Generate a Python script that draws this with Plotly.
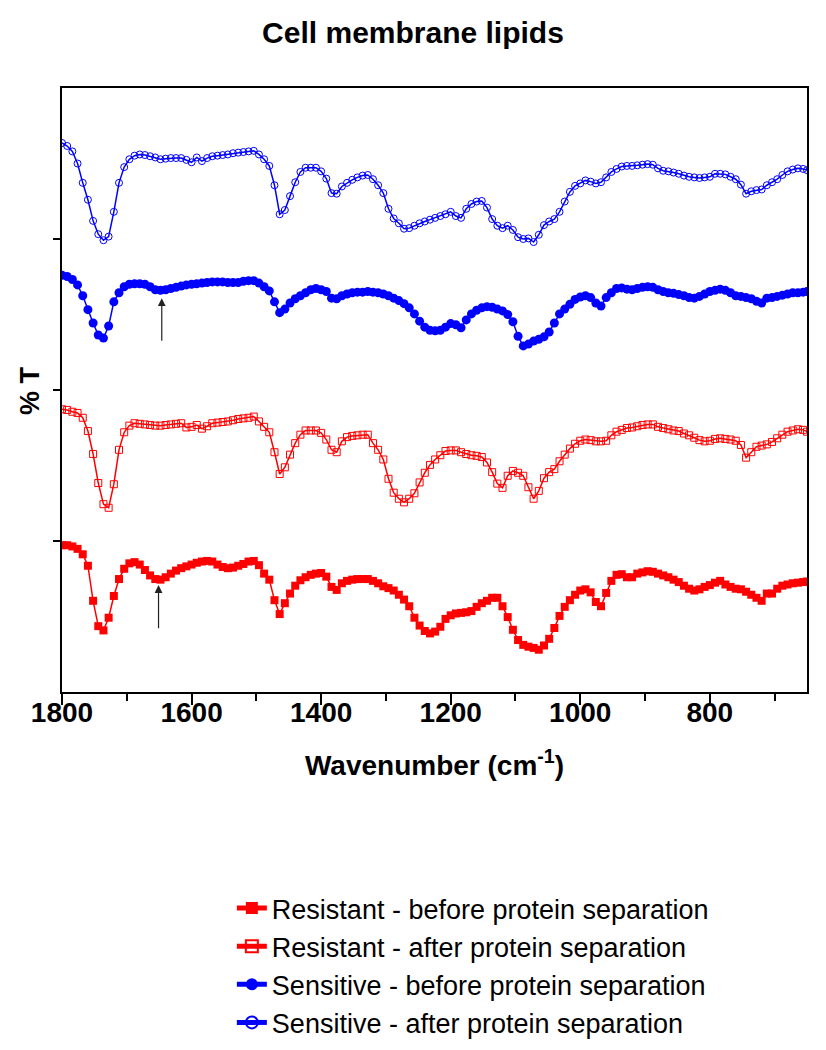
import plotly.graph_objects as go

# Wavenumber grid (cm^-1), rows of 10
WAVENUMBER = [
    1800, 1792, 1784, 1776, 1768, 1760, 1752, 1744, 1736, 1728,
    1720, 1712, 1704, 1696, 1688, 1680, 1672, 1664, 1656, 1648,
    1640, 1632, 1624, 1616, 1608, 1600, 1592, 1584, 1576, 1568,
    1560, 1552, 1544, 1536, 1528, 1520, 1512, 1504, 1496, 1488,
    1480, 1472, 1464, 1456, 1448, 1440, 1432, 1424, 1416, 1408,
    1400, 1392, 1384, 1376, 1368, 1360, 1352, 1344, 1336, 1328,
    1320, 1312, 1304, 1296, 1288, 1280, 1272, 1264, 1256, 1248,
    1240, 1232, 1224, 1216, 1208, 1200, 1192, 1184, 1176, 1168,
    1160, 1152, 1144, 1136, 1128, 1120, 1112, 1104, 1096, 1088,
    1080, 1072, 1064, 1056, 1048, 1040, 1032, 1024, 1016, 1008,
    1000, 992, 984, 976, 968, 960, 952, 944, 936, 928,
    920, 912, 904, 896, 888, 880, 872, 864, 856, 848,
    840, 832, 824, 816, 808, 800, 792, 784, 776, 768,
    760, 752, 744, 736, 728, 720, 712, 704, 696, 688,
    680, 672, 664, 656, 650,
]

# % T (offset stacked spectra)
SENSITIVE_AFTER = [
    90.9, 90.4, 89.5, 87.5, 84.3, 81.5, 78.0, 75.8, 74.8, 75.4,
    79.5, 84.3, 86.9, 88.2, 88.8, 89.0, 88.9, 88.7, 88.5, 88.2,
    88.3, 88.4, 88.4, 88.4, 88.1, 87.7, 88.5, 87.9, 88.4, 88.7,
    88.8, 88.9, 89.0, 89.2, 89.3, 89.4, 89.5, 89.6, 89.0, 88.2,
    87.1, 83.9, 79.1, 79.8, 82.1, 84.4, 86.1, 86.8, 86.8, 86.8,
    86.2, 85.0, 82.6, 82.5, 83.7, 84.3, 84.8, 85.2, 85.5, 85.6,
    84.9, 83.9, 82.6, 80.0, 78.4, 77.6, 76.7, 76.8, 77.2, 77.6,
    77.9, 78.2, 78.5, 78.8, 79.1, 79.5, 78.8, 78.5, 80.0, 80.8,
    81.2, 81.3, 80.2, 78.3, 77.2, 76.8, 77.2, 76.5, 75.3, 75.0,
    75.1, 74.5, 75.7, 77.3, 77.9, 78.3, 79.5, 81.2, 82.8, 83.8,
    84.2, 84.7, 84.5, 84.2, 84.4, 85.2, 86.1, 86.6, 87.0, 87.1,
    87.1, 87.2, 87.3, 87.4, 87.3, 86.7, 86.3, 86.2, 86.0, 85.8,
    85.5, 85.3, 85.2, 85.1, 85.2, 85.3, 85.8, 85.8, 85.7, 85.3,
    84.9, 84.0, 82.5, 82.9, 83.1, 83.2, 83.9, 84.4, 84.9, 85.6,
    86.2, 86.5, 86.7, 86.6, 86.4,
]

SENSITIVE_BEFORE = [
    69.0, 68.8, 68.3, 67.4, 65.6, 63.3, 61.1, 59.1, 58.6, 60.6,
    64.6, 66.1, 67.1, 67.5, 67.6, 67.6, 67.5, 67.1, 66.6, 66.5,
    66.6, 66.8, 67.0, 67.2, 67.4, 67.5, 67.6, 67.7, 67.8, 67.9,
    67.9, 67.9, 67.8, 67.8, 67.8, 68.0, 68.1, 68.1, 67.7, 67.1,
    66.4, 64.6, 62.8, 63.4, 64.4, 65.1, 65.6, 66.1, 66.6, 66.8,
    66.6, 66.3, 65.2, 65.1, 65.6, 65.9, 66.1, 66.2, 66.2, 66.3,
    66.2, 66.1, 65.9, 65.6, 65.2, 64.8, 64.3, 63.6, 62.6, 61.4,
    60.4, 59.9, 59.8, 59.9, 60.4, 61.0, 60.8, 60.3, 61.6, 62.6,
    63.2, 63.6, 63.8, 63.7, 63.4, 63.1, 62.5, 61.3, 58.9, 57.3,
    57.6, 58.1, 58.4, 58.8, 59.6, 61.1, 62.6, 63.4, 64.2, 65.0,
    65.4, 65.6, 65.3, 64.4, 63.9, 65.3, 66.1, 66.8, 66.9, 66.7,
    66.6, 66.8, 67.0, 67.1, 67.0, 66.6, 66.3, 66.1, 66.0, 65.8,
    65.6, 65.3, 65.2, 65.5, 65.9, 66.3, 66.5, 66.7, 66.5, 66.1,
    65.6, 65.5, 65.3, 65.1, 64.7, 64.4, 65.2, 65.3, 65.5, 65.7,
    65.9, 66.1, 66.1, 66.2, 66.3,
]

RESISTANT_AFTER = [
    46.8, 46.7, 46.4, 46.2, 45.4, 43.2, 39.4, 34.6, 31.1, 30.5,
    34.4, 40.1, 43.0, 44.1, 44.5, 44.4, 44.3, 44.2, 44.1, 44.1,
    44.2, 44.3, 44.4, 44.5, 43.8, 43.9, 44.2, 43.6, 44.0, 44.5,
    44.6, 44.7, 44.8, 45.0, 45.2, 45.3, 45.4, 45.6, 44.8, 43.9,
    43.0, 39.7, 36.1, 37.2, 39.3, 41.2, 42.6, 43.3, 43.3, 43.3,
    42.9, 41.8, 40.1, 39.7, 41.5, 42.2, 42.4, 42.5, 42.6, 42.6,
    41.2, 40.1, 38.5, 35.3, 33.0, 32.0, 31.4, 32.0, 32.9, 34.7,
    36.3, 37.6, 38.5, 39.2, 39.9, 40.0, 40.0, 39.7, 39.4, 39.2,
    39.1, 38.9, 38.0, 36.4, 34.5, 33.8, 35.8, 36.6, 36.3, 35.8,
    33.9, 32.0, 33.3, 35.4, 36.4, 36.9, 38.2, 39.3, 40.3, 41.1,
    41.6, 41.8, 41.7, 41.5, 41.5, 41.6, 42.5, 43.1, 43.4, 43.7,
    43.8, 44.0, 44.2, 44.3, 44.3, 43.9, 43.7, 43.5, 43.3, 43.2,
    42.8, 42.5, 42.1, 41.7, 41.5, 41.6, 41.9, 42.0, 41.9, 41.8,
    41.6, 40.9, 38.8, 39.7, 40.6, 40.8, 41.0, 41.4, 42.0, 42.6,
    43.1, 43.3, 43.5, 43.4, 43.1,
]

RESISTANT_BEFORE = [
    24.3, 24.3, 24.1, 23.7, 22.8, 20.9, 15.1, 10.9, 10.2, 12.3,
    15.9, 18.7, 20.4, 21.3, 21.5, 21.1, 20.2, 19.3, 18.7, 18.6,
    19.0, 19.6, 20.1, 20.5, 20.8, 21.1, 21.4, 21.6, 21.7, 21.6,
    21.1, 20.7, 20.5, 20.6, 20.9, 21.2, 21.6, 21.7, 21.0, 19.6,
    18.6, 15.2, 12.9, 14.7, 16.3, 17.6, 18.5, 19.0, 19.4, 19.6,
    19.7, 19.1, 17.4, 16.9, 18.0, 18.4, 18.6, 18.7, 18.7, 18.7,
    18.4, 18.0, 17.5, 17.2, 16.8, 16.1, 15.3, 14.2, 12.3, 11.0,
    10.1, 9.7, 10.0, 10.8, 12.1, 12.7, 13.0, 13.1, 13.2, 13.4,
    14.1, 14.7, 15.1, 15.6, 15.6, 14.2, 12.4, 10.3, 8.6, 7.8,
    7.5, 7.3, 7.0, 7.7, 8.8, 10.6, 12.6, 14.1, 15.2, 16.1,
    16.8, 17.0, 16.5, 14.9, 14.2, 16.4, 18.4, 19.4, 19.5, 19.0,
    19.0, 19.6, 19.8, 20.0, 19.9, 19.6, 19.3, 19.0, 18.6, 18.2,
    17.6, 17.1, 16.8, 17.0, 17.4, 17.7, 18.1, 18.4, 17.8, 17.4,
    17.1, 17.0, 16.6, 16.1, 15.6, 15.1, 16.3, 16.3, 17.1, 17.6,
    17.8, 18.0, 18.1, 18.2, 18.3,
]

SERIES_NAMES = [
    "Resistant - before protein separation",
    "Resistant - after protein separation",
    "Sensitive - before protein separation",
    "Sensitive - after protein separation",
]

X_TICKS = [1800, 1600, 1400, 1200, 1000, 800]
Y_TICKS = [25, 50, 75]

# Arrows marking the 1650 cm^-1 band: (wavenumber, tip %T, tail %T)
ARROW_WN = [1651, 1646]
ARROW_TIP = [17.7, 65.2]
ARROW_TAIL = [10.3, 57.9]

RED = "#FF0000"
BLUE = "#0000FF"
FONT = "Liberation Sans, Arial, sans-serif"

# page body has an 8px default margin; size the figure to fill the window
FIG_W, FIG_H = 818, 1042

fig = go.Figure()

styles = [
    (RESISTANT_BEFORE, RED, "square", 8, 0),
    (RESISTANT_AFTER, RED, "square-open", 7, 1),
    (SENSITIVE_BEFORE, BLUE, "circle", 9, 0),
    (SENSITIVE_AFTER, BLUE, "circle-open", 7, 1),
]
for name, (vals, col, sym, size, lw) in zip(SERIES_NAMES, styles):
    fig.add_trace(go.Scatter(
        x=WAVENUMBER, y=vals, name=name, mode="lines+markers",
        line=dict(color=col, width=1.5),
        marker=dict(symbol=sym, size=size, color=col,
                    line=dict(color=col, width=lw)),
    ))

for wn, tip, tail in zip(ARROW_WN, ARROW_TIP, ARROW_TAIL):
    fig.add_annotation(x=wn, y=tip, ax=wn, ay=tail, xref="x", yref="y",
                       axref="x", ayref="y", text="", showarrow=True,
                       arrowhead=2, arrowsize=1.3, arrowwidth=1.2,
                       arrowcolor="#222222")

fig.add_annotation(text="<b>% T</b>", xref="paper", yref="paper",
                   x=-0.043, y=0.5, textangle=-90, showarrow=False,
                   font=dict(family=FONT, size=27, color="black"),
                   xanchor="center", yanchor="middle")

fig.update_layout(
    width=FIG_W, height=FIG_H, autosize=False,
    margin=dict(l=54, r=19, t=80, b=358, autoexpand=False),
    paper_bgcolor="white", plot_bgcolor="white",
    title=dict(text="<b>Cell membrane lipids</b>", x=(413 - 8) / FIG_W,
               xanchor="center", y=1 - 24 / FIG_H, yanchor="middle",
               yref="container",
               font=dict(family=FONT, size=30, color="black")),
    legend=dict(x=0.228, y=-0.318, xanchor="left", yanchor="top",
                font=dict(family=FONT, size=27, color="black"),
                itemsizing="constant", bgcolor="rgba(0,0,0,0)"),
    showlegend=True,
)

fig.update_xaxes(
    range=[1800, 650], tickmode="array", tickvals=X_TICKS,
    ticktext=[str(v) for v in X_TICKS],
    ticks="outside", ticklen=11, tickwidth=2, tickcolor="black",
    ticklabelstandoff=-17,
    minor=dict(dtick=100, tick0=0, ticks="outside", ticklen=7,
               tickwidth=2, tickcolor="black"),
    showline=True, linewidth=2, linecolor="black", mirror=True,
    showgrid=False, zeroline=False,
    tickfont=dict(family=FONT, size=28, color="black", weight="bold"),
    title=dict(text="<b>Wavenumber (cm<sup>-1</sup>)</b>", standoff=29,
               font=dict(family=FONT, size=28, color="black")),
)
fig.update_yaxes(
    range=[0, 100], tickmode="array", tickvals=Y_TICKS,
    showticklabels=False, ticks="outside", ticklen=7, tickwidth=2,
    tickcolor="black", showline=True, linewidth=2, linecolor="black",
    mirror=True, showgrid=False, zeroline=False,
)

fig.write_html("out.html")
